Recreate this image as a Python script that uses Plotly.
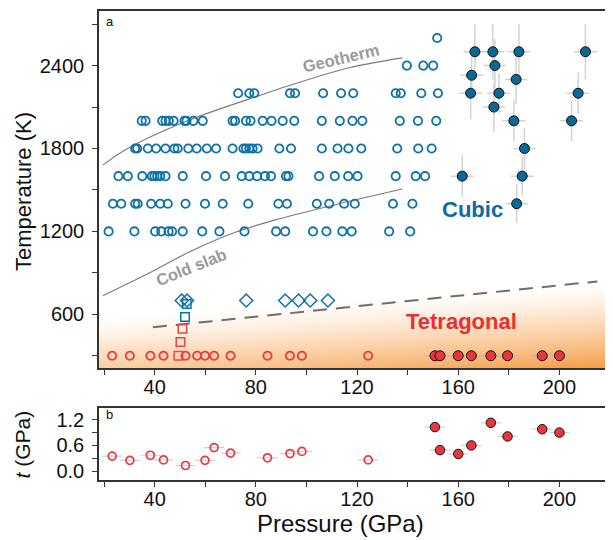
import base64
import plotly.graph_objects as go

FONT = "Liberation Sans, Arial, sans-serif"
BLUE = "#0f72a6"
BLUE_FILL = "#0a6896"
RED = "#ee3a3f"
RED_FILL = "#e8363a"
GREY_TXT = "#9a9a9a"
ERR = "#d2d2d2"
AX = "#333333"

# ---------------- panel a data ----------------
# cubic (open circles), one list of pressures per temperature row
p_1200 = [21.8, 32.0, 40.2, 42.6, 45.5, 46.9, 51.1, 58.8, 65.6, 75.5, 88.0, 91.6,
          102.6, 107.9, 114.2, 117.9, 132.7, 141.0]
p_1400 = [23.5, 26.8, 32.3, 33.3, 38.6, 42.2, 45.2, 52.2, 59.9, 66.9, 77.0, 88.9,
          92.3, 104.1, 109.0, 114.9, 119.1, 134.2, 141.9]
p_1600 = [25.7, 29.4, 35.1, 38.9, 39.9, 41.0, 42.2, 44.3, 51.1, 60.3, 67.8, 74.4,
          77.4, 80.5, 83.6, 86.0, 91.9, 92.9, 105.0, 111.2, 116.5, 120.2, 135.3,
          143.2, 146.9]
p_1800 = [32.3, 33.1, 37.3, 40.6, 44.3, 47.8, 49.1, 53.3, 56.6, 60.6, 64.3, 70.8,
          75.1, 76.1, 77.4, 78.7, 80.7, 89.3, 93.9, 106.1, 112.3, 116.6, 121.7,
          135.9, 144.2, 149.5]
p_2000 = [34.9, 36.4, 43.0, 44.3, 45.6, 47.5, 51.8, 52.6, 55.3, 59.0, 70.8, 71.8,
          76.1, 77.9, 82.7, 86.2, 90.6, 95.2, 106.1, 113.2, 118.2, 122.1, 136.9,
          144.1, 151.3]
p_2200 = [73.0, 77.4, 79.4, 93.5, 95.5, 106.6, 113.7, 118.5, 135.3, 137.3, 145.4,
          152.0]
p_2400 = [139.7, 146.2, 150.1]
p_2600 = [151.7]
cubic_rows = {1200: p_1200, 1400: p_1400, 1600: p_1600, 1800: p_1800,
              2000: p_2000, 2200: p_2200, 2400: p_2400, 2600: p_2600}

# cubic, other symbols
cubic_diamond_P = [50.7, 52.8, 76.2, 91.6, 96.9, 101.5, 108.5]
cubic_diamond_T = [700, 700, 700, 700, 700, 700, 700]
cubic_square_P = [52.7, 52.0]
cubic_square_T = [675, 580]

# cubic, filled (with error bars)
cubic_fill_P = [166.6, 173.7, 184.0, 210.3, 174.5, 165.3, 182.9, 164.9, 176.1,
                207.4, 174.1, 182.0, 204.8, 186.2, 161.6, 185.3, 183.1]
cubic_fill_T = [2500, 2500, 2500, 2500, 2400, 2330, 2300, 2200, 2200, 2200, 2100,
                2000, 2000, 1800, 1600, 1600, 1400]
cubic_fill_errT = [200, 200, 200, 200, 190, 150, 180, 190, 145, 150, 180, 150,
                   145, 145, 150, 140, 140]
cubic_fill_errP = [4.5] * 17

# tetragonal
tet_open_P = [23.2, 30.2, 38.3, 43.5, 52.2, 56.8, 59.9, 63.5, 70.0, 84.6, 93.5,
              98.2, 124.4]
tet_open_T = [300] * 13
tet_square_P = [49.4, 50.2, 51.0]
tet_square_T = [300, 400, 495]
tet_fill_P = [150.8, 152.8, 160.0, 165.2, 172.9, 179.5, 193.2, 200.0]
tet_fill_T = [300] * 8
tet_fill_errP = [4.0] * 8

# reference curves
geotherm_P = [19.5, 28.8, 51.8, 82.7, 89.3, 116.9, 137.9]
geotherm_T = [1680, 1795, 1992, 2191, 2232, 2384, 2456]
coldslab_P = [19.5, 40.6, 53.7, 72.2, 89.3, 112.1, 137.9]
coldslab_T = [735, 925, 1051, 1195, 1291, 1397, 1507]
boundary_P = [39.3, 215.0]
boundary_T = [506, 838]

# ---------------- panel b data ----------------
b_open_P = [23.2, 30.2, 38.3, 43.5, 52.2, 59.9, 63.5, 70.0, 84.6, 93.5, 98.2, 124.4]
b_open_t = [0.35, 0.25, 0.37, 0.26, 0.13, 0.25, 0.55, 0.42, 0.31, 0.41, 0.46, 0.26]
b_fill_P = [150.8, 152.8, 160.0, 165.2, 172.9, 179.5, 193.2, 200.0]
b_fill_t = [1.03, 0.49, 0.40, 0.60, 1.13, 0.81, 0.98, 0.90]
b_errP = 4.0

x_range = [18, 220]
ya_range = [208, 2795]
yb_range = [-0.21, 1.47]

fig = go.Figure()

# curves
fig.add_trace(go.Scatter(x=geotherm_P, y=geotherm_T, mode="lines", line_shape="spline",
                         line=dict(color="#7a7a7a", width=1.1), xaxis="x", yaxis="y",
                         hoverinfo="skip"))
fig.add_trace(go.Scatter(x=coldslab_P, y=coldslab_T, mode="lines", line_shape="spline",
                         line=dict(color="#7a7a7a", width=1.1), xaxis="x", yaxis="y",
                         hoverinfo="skip"))
fig.add_trace(go.Scatter(x=boundary_P, y=boundary_T, mode="lines",
                         line=dict(color="#6e6e6e", width=2, dash="14px,9px"),
                         xaxis="x", yaxis="y", hoverinfo="skip"))

# cubic open circles
cx, cy = [], []
for T, ps in cubic_rows.items():
    cx += ps
    cy += [T] * len(ps)
fig.add_trace(go.Scatter(x=cx, y=cy, mode="markers",
                         marker=dict(symbol="circle-open", size=8.3, color=BLUE,
                                     line=dict(width=1.8, color=BLUE)),
                         xaxis="x", yaxis="y"))
fig.add_trace(go.Scatter(x=cubic_square_P, y=cubic_square_T, mode="markers",
                         marker=dict(symbol="square-open", size=8.5, color=BLUE,
                                     line=dict(width=1.5, color=BLUE)),
                         xaxis="x", yaxis="y"))
fig.add_trace(go.Scatter(x=cubic_diamond_P, y=cubic_diamond_T, mode="markers",
                         marker=dict(symbol="diamond-open", size=10, color=BLUE,
                                     line=dict(width=1.5, color=BLUE)),
                         xaxis="x", yaxis="y"))

# tetragonal open
fig.add_trace(go.Scatter(x=tet_square_P, y=tet_square_T, mode="markers",
                         marker=dict(symbol="square-open", size=8.5, color="#ea4448",
                                     line=dict(width=1.5, color="#ea4448")),
                         xaxis="x", yaxis="y"))
fig.add_trace(go.Scatter(x=tet_open_P, y=tet_open_T, mode="markers",
                         marker=dict(symbol="circle-open", size=8.3, color=RED,
                                     line=dict(width=1.8, color=RED)),
                         xaxis="x", yaxis="y"))

# filled with error bars
fig.add_trace(go.Scatter(x=cubic_fill_P, y=cubic_fill_T, mode="markers",
                         error_x=dict(type="data", array=cubic_fill_errP, color=ERR,
                                      thickness=1.5, width=0),
                         error_y=dict(type="data", array=cubic_fill_errT, color=ERR,
                                      thickness=1.5, width=0),
                         marker=dict(symbol="circle", size=10, color=BLUE_FILL,
                                     line=dict(width=1, color="#111")),
                         xaxis="x", yaxis="y"))
fig.add_trace(go.Scatter(x=tet_fill_P, y=tet_fill_T, mode="markers",
                         error_x=dict(type="data", array=tet_fill_errP, color="#bdbdbd",
                                      thickness=1.5, width=0),
                         marker=dict(symbol="circle", size=10, color=RED_FILL,
                                     line=dict(width=1, color="#111")),
                         xaxis="x", yaxis="y"))

# panel b
fig.add_trace(go.Scatter(x=b_open_P, y=b_open_t, mode="markers",
                         error_x=dict(type="constant", value=b_errP, color=ERR,
                                      thickness=1.2, width=0),
                         marker=dict(symbol="circle-open", size=8, color=RED,
                                     line=dict(width=1.7, color=RED)),
                         xaxis="x2", yaxis="y2"))
fig.add_trace(go.Scatter(x=b_fill_P, y=b_fill_t, mode="markers",
                         error_x=dict(type="constant", value=b_errP, color=ERR,
                                      thickness=1.2, width=0),
                         marker=dict(symbol="circle", size=9.5, color=RED_FILL,
                                     line=dict(width=1, color="#111")),
                         xaxis="x2", yaxis="y2"))

# background gradient (tetragonal field)
svg = ("<svg xmlns='http://www.w3.org/2000/svg' width='512' height='110' "
       "viewBox='0 0 512 110' preserveAspectRatio='none'>"
       "<defs><linearGradient id='g' gradientUnits='userSpaceOnUse' "
       "x1='256' y1='41.5' x2='262' y2='128'>"
       "<stop offset='0' stop-color='#fde6d0' stop-opacity='0'/>"
       "<stop offset='0.35' stop-color='#fcd8b6' stop-opacity='0.7'/>"
       "<stop offset='1' stop-color='#f59a40' stop-opacity='1'/>"
       "</linearGradient></defs>"
       "<rect width='512' height='110' fill='url(#g)'/></svg>")
src = "data:image/svg+xml;base64," + base64.b64encode(svg.encode()).decode()
fig.add_layout_image(dict(source=src, xref="x", yref="y", x=x_range[0], y=1000,
                          sizex=x_range[1] - x_range[0], sizey=1000 - ya_range[0],
                          xanchor="left", yanchor="top", sizing="stretch",
                          layer="below", opacity=1))

axis_common = dict(showline=True, linecolor=AX, linewidth=1.5, mirror=True,
                   ticks="outside", ticklen=5, tickwidth=1.2, tickcolor=AX,
                   showgrid=False, zeroline=False,
                   tickfont=dict(family=FONT, size=20, color="#111"))
minor_common = dict(ticks="outside", ticklen=5, tickwidth=1.2, tickcolor=AX)

# the page body has an 8px margin: the figure is sized so it fits the 613x540 window
fig.update_layout(
    width=605, height=532,
    margin=dict(l=91, r=2, t=1, b=60),
    plot_bgcolor="rgba(0,0,0,0)", paper_bgcolor="white",
    showlegend=False,
    font=dict(family=FONT, size=20, color="#111"),
    xaxis=dict(domain=[0, 1], anchor="y", range=x_range, tick0=0, dtick=40,
               minor=dict(dtick=20, **minor_common), ticklabelstandoff=-5,
               **axis_common),
    yaxis=dict(domain=[0.2378, 1], anchor="x", range=ya_range, tick0=0, dtick=600,
               minor=dict(dtick=300, **minor_common),
               ticklabelstandoff=4, **axis_common),
    xaxis2=dict(domain=[0, 1], anchor="y2", range=x_range, tick0=0, dtick=40,
                minor=dict(dtick=20, **minor_common), ticklabelstandoff=-5,
                **axis_common),
    yaxis2=dict(domain=[0, 0.1529], anchor="x2", range=yb_range, tick0=0, dtick=0.6,
                tickformat=".1f", minor=dict(dtick=0.3, **minor_common),
                ticklabelstandoff=4, **axis_common),
)

ann = [
    dict(text="Temperature (K)", x=-0.148, y=0.615, xref="paper", yref="paper",
         textangle=-90, showarrow=False, xanchor="center", yanchor="middle",
         font=dict(size=22, family=FONT, color="#111")),
    dict(text="<i>t</i> (GPa)", x=-0.150, y=0.0764, xref="paper", yref="paper",
         textangle=-90, showarrow=False, xanchor="center", yanchor="middle",
         font=dict(size=21, family=FONT, color="#111")),
    dict(text="Pressure (GPa)", x=0.4727, y=-0.0934, xref="paper", yref="paper",
         showarrow=False, xanchor="center", yanchor="middle",
         font=dict(size=24, family=FONT, color="#111")),
    dict(text="a", x=0.0215, y=0.9766, xref="paper", yref="paper", showarrow=False,
         xanchor="center", yanchor="middle", font=dict(size=13, family=FONT, color="#111")),
    dict(text="b", x=0.0215, y=0.140, xref="paper", yref="paper", showarrow=False,
         xanchor="center", yanchor="middle", font=dict(size=13, family=FONT, color="#111")),
    dict(text="<b>Cubic</b>", x=165.8, y=1359, xref="x", yref="y", showarrow=False,
         xanchor="center", yanchor="middle",
         font=dict(size=22, family=FONT, color="#0b6d9e")),
    dict(text="<b>Tetragonal</b>", x=161.3, y=547, xref="x", yref="y", showarrow=False,
         xanchor="center", yanchor="middle",
         font=dict(size=22, family=FONT, color="#e8302f")),
    dict(text="<b>Geotherm</b>", x=113.6, y=2455, xref="x", yref="y", showarrow=False,
         xanchor="center", yanchor="middle", textangle=-13,
         font=dict(size=16.5, family=FONT, color=GREY_TXT)),
    dict(text="<b>Cold slab</b>", x=54.4, y=943, xref="x", yref="y", showarrow=False,
         xanchor="center", yanchor="middle", textangle=-22,
         font=dict(size=16.5, family=FONT, color=GREY_TXT)),
]
fig.update_layout(annotations=ann)

fig.write_html("out.html")
